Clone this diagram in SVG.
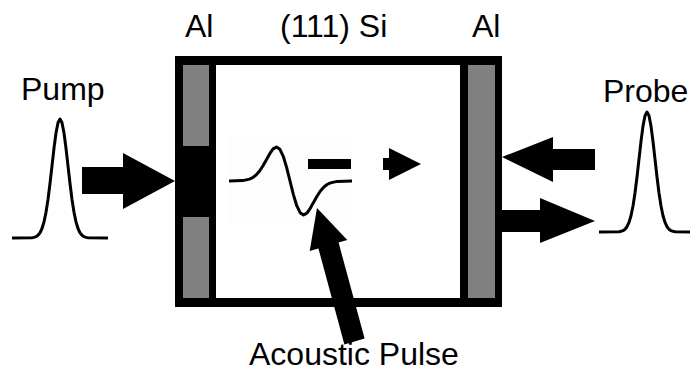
<svg xmlns="http://www.w3.org/2000/svg" xmlns:xlink="http://www.w3.org/1999/xlink" width="690" height="372" viewBox="0 0 690 372">
<style>
.lbl{font-family:"Liberation Sans",Arial,Helvetica,sans-serif;fill:#000;font-size:32px}
.wave{fill:none;stroke:#000;stroke-width:3;stroke-linejoin:round;stroke-linecap:butt}
.al{fill:#808080}
.arr{fill:#000}
</style>
<defs>
<path id="gauss" class="wave" d="M-48,119 L-28,118.8 L-26,118.4 L-24,117.7 L-22,116.3 L-20,113.8 L-18,109.5 L-16,102.9 L-14,93.3 L-12,80.4 L-10,64.5 L-8,46.8 L-6,29.2 L-4,14 L-2,3.7 L0,0 L2,3.7 L4,14 L6,29.2 L8,46.8 L10,64.5 L12,80.4 L14,93.3 L16,102.9 L18,109.5 L20,113.8 L22,116.3 L24,117.7 L26,118.4 L28,118.8 L48,119"/>
</defs>
<rect width="690" height="372" fill="#fff"/>
<g id="si-box">
<rect x="175" y="56" width="327" height="251" fill="#000"/>
<rect x="216" y="65" width="244" height="233" fill="#fff"/>
</g>
<g id="al-left">
<rect class="al" x="183" y="65" width="26" height="81"/>
<rect class="al" x="183" y="217" width="26" height="81"/>
</g>
<g id="al-right">
<rect class="al" x="468" y="65" width="27" height="233"/>
</g>
<g id="acoustic-wave">
<rect x="229" y="138" width="123" height="86" fill="#fdfdfd"/>
<path class="wave" d="M229,181 L242.75,180.6 L249.5,179.1 L252.9,177.5 L256.25,174.8 L259.6,171 L263,165.8 L266.4,159.8 L269.75,153.7 L273.1,148.9 L276.5,147 L279.9,149.3 L283.25,156.3 L286.6,167.4 L290,181 L293.4,194.6 L296.75,205.7 L300.1,212.7 L303.5,215 L306.9,213.1 L310.25,208.3 L313.6,202.2 L317,196.2 L320.4,191 L323.75,187.2 L327.1,184.5 L330.5,182.9 L337.25,181.4 L352,181"/>
<rect x="308" y="159" width="43" height="10" fill="#000"/>
</g>
<g id="pump-pulse">
<use xlink:href="#gauss" href="#gauss" transform="translate(60,119)"/>
</g>
<g id="probe-pulse">
<use xlink:href="#gauss" href="#gauss" transform="translate(647,112) scale(1,1.008)"/>
</g>
<g id="labels">
<text class="lbl" x="21" y="100">Pump</text>
<text class="lbl" x="603" y="102">Probe</text>
<text class="lbl" x="185" y="37">Al</text>
<text class="lbl" x="280" y="37">(111) Si</text>
<text class="lbl" x="472" y="37">Al</text>
<text class="lbl" x="249" y="365">Acoustic Pulse</text>
</g>
<g id="connectors">
<polygon class="arr" points="82,167 123,167 123,153 175,181 123,209 123,194 82,194"/>
<polygon class="arr" points="595,149 553,149 553,137 502,157 553,182 553,170 595,170"/>
<polygon class="arr" points="502,210 540,210 540,198 595,221 540,243 540,232 502,232"/>
<polygon class="arr" points="383,158 389,158 389,148 421,164 389,180 389,170 383,170"/>
<polygon class="arr" points="364.6,338.6 338.6,242.6 347.3,240.1 317,208 309.7,250.9 318.4,248.4 344.4,344.4"/>
</g>
</svg>
